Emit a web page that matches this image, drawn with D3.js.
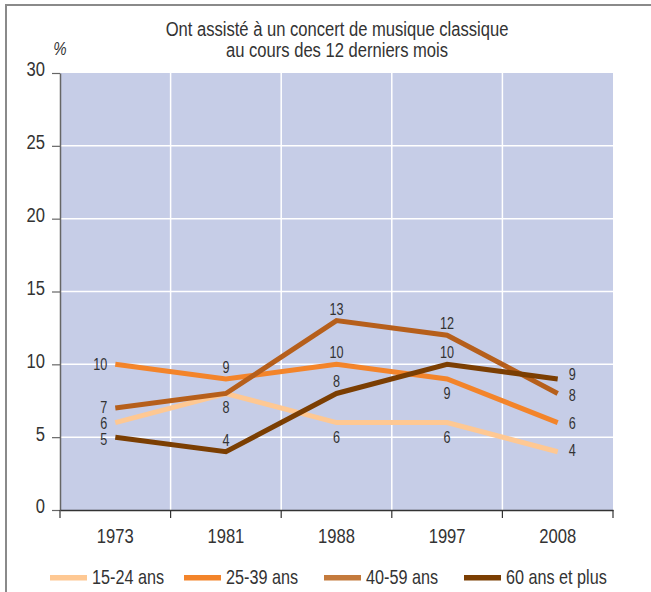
<!DOCTYPE html>
<html><head><meta charset="utf-8">
<script src="https://cdn.jsdelivr.net/npm/d3@7"></script>
<style>
html,body{margin:0;padding:0;background:#fff;}
svg{display:block;font-family:"Liberation Sans",Arial,sans-serif;}
</style></head>
<body><svg id="c" width="651" height="592"></svg>
<script>
const years = ["1973","1981","1988","1997","2008"];
const seriesNames = ["15-24 ans","25-39 ans","40-59 ans","60 ans et plus"];
const s1524 = [6, 8, 6, 6, 4];
const s2539 = [10, 9, 10, 9, 6];
const s4059 = [7, 8, 13, 12, 8];
const s60 = [5, 4, 8, 10, 9];
const yTicks = [0, 5, 10, 15, 20, 25, 30];
const titleLines = ["Ont assisté à un concert de musique classique", "au cours des 12 derniers mois"];

// label placement per series per year ("none" = shared label drawn by another series)
const place = [
  ["left","none","below","below","right"],
  ["left","above","above","below","right"],
  ["left","below","above","above","right"],
  ["left","above","above","above","right"]
];
const leftNudge = [0, 0, -1, 2];
const rightNudge = [-2, 0, 2, -5];
const colors = ["#fec893", "#f3842a", "#b65f1b", "#7b3e02"];
const legendColors = ["#fec893", "#f3842a", "#c47a3c", "#7b3e02"];
const SX = 0.79; // condensed look

const svg = d3.select("#c");
const W = 651, H = 592;
const m = {l: 60, r: 613, t: 73, b: 510};

function txt(g, x, y, s, size, anchor, extra) {
  const t = g.append("text").attr("transform", `translate(${x},${y}) scale(${SX},1)`)
    .attr("text-anchor", anchor || "start").attr("font-size", size).attr("fill", "#333").text(s);
  if (extra) extra(t);
  return t;
}

// frame
svg.append("path").attr("d", `M6,${H} L6,5 L${W},5`).attr("fill","none").attr("stroke","#8a8a8a").attr("stroke-width",2);

const x = d3.scaleBand().domain(years).range([m.l, m.r]).padding(0);
const y = d3.scaleLinear().domain([0, 30]).range([m.b, m.t]);

svg.append("rect").attr("x", m.l).attr("y", m.t).attr("width", m.r - m.l).attr("height", m.b - m.t).attr("fill", "#c6cde7");

// grid
svg.append("g").selectAll("line").data(yTicks.filter(d => d > 0 && d < 30)).join("line")
  .attr("x1", m.l).attr("x2", m.r).attr("y1", d => y(d)).attr("y2", d => y(d))
  .attr("stroke", "#fff").attr("stroke-width", 1.5);
svg.append("g").selectAll("line").data(years.slice(1)).join("line")
  .attr("x1", d => x(d)).attr("x2", d => x(d)).attr("y1", m.t).attr("y2", m.b)
  .attr("stroke", "#fff").attr("stroke-width", 1.5);

// y axis
const yAxis = svg.append("g").attr("transform", `translate(${m.l},0)`)
  .call(d3.axisLeft(y).tickValues(yTicks).tickSize(8).tickSizeOuter(0).tickPadding(4));
yAxis.select(".domain").attr("stroke", "#666").attr("stroke-width", 1.5);
yAxis.selectAll(".tick line").attr("stroke", "#666").attr("stroke-width", 1.2);
yAxis.selectAll(".tick text").attr("font-size", 21).attr("fill", "#333")
  .attr("font-family", "Liberation Sans, Arial, sans-serif")
  .attr("x", -15 / SX).attr("dy", "0.14em").attr("transform", `scale(${SX},1)`);

// x axis
const xAxis = svg.append("g").attr("transform", `translate(0,${m.b})`)
  .call(d3.axisBottom(x).tickSize(0).tickPadding(16));
xAxis.select(".domain").attr("stroke", "#333").attr("stroke-width", 1.5);
xAxis.selectAll(".tick text").attr("font-size", 21).attr("fill", "#333")
  .attr("font-family", "Liberation Sans, Arial, sans-serif")
  .attr("y", 33).attr("dy", 0).attr("transform", `scale(${SX},1)`);
svg.append("g").selectAll("line").data(years.concat(["end"])).join("line")
  .attr("x1", (d, i) => i < years.length ? x(d) : m.r).attr("x2", (d, i) => i < years.length ? x(d) : m.r)
  .attr("y1", m.b).attr("y2", m.b + 8).attr("stroke", "#333").attr("stroke-width", 1.2);

// % label
txt(svg, 60, 55, "%", 19, "middle", t => t.attr("font-style", "italic"));

// title
txt(svg, 337, 36, titleLines[0], 21, "middle");
txt(svg, 337, 57, titleLines[1], 21, "middle");

// lines
const all = [s1524, s2539, s4059, s60];
const cx = d => x(d) + x.bandwidth() / 2;
const line = d3.line().x((v, i) => cx(years[i])).y(v => y(v));
all.forEach((vals, k) => {
  svg.append("path").datum(vals).attr("d", line).attr("fill", "none")
    .attr("stroke", colors[k]).attr("stroke-width", 5).attr("stroke-linejoin", "miter");
});

// labels
all.forEach((vals, k) => {
  vals.forEach((v, i) => {
    const p = place[k][i];
    if (p === "none") return;
    let tx = cx(years[i]), ty = y(v), anchor = "middle";
    if (p === "left") { tx -= 8; anchor = "end"; ty += 6 + leftNudge[k]; }
    else if (p === "right") { tx += 11; anchor = "start"; ty += 6 + rightNudge[k]; }
    else if (p === "above") { ty -= 6; }
    else if (p === "below") { ty += 20; }
    txt(svg, tx, ty, v, 16, anchor);
  });
});

// legend
const legX = [50, 184, 324, 464];
seriesNames.forEach((n, k) => {
  svg.append("rect").attr("x", legX[k]).attr("y", 575).attr("width", 37).attr("height", 5.5).attr("fill", legendColors[k]);
  txt(svg, legX[k] + 42, 584, n, 20.5, "start");
});
</script></body></html>
